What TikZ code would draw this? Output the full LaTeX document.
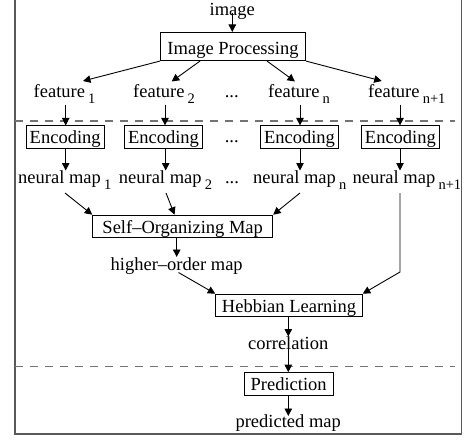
\documentclass[tikz,border=0pt]{standalone}
\usepackage{fontspec}
\setmainfont{Liberation Serif}
\usetikzlibrary{arrows.meta}
% lowered index set after a label word
\newcommand\lowsub[1]{\hspace{3.2pt}\raisebox{-6.5pt}{\fontsize{14.5}{15}\selectfont #1}}
\begin{document}
\begin{tikzpicture}[x=1pt,y=-1pt,
  font=\fontsize{18.5}{20}\selectfont,
  box/.style={draw, line width=0.9pt, inner xsep=0pt, inner ysep=0.7pt,
              text height=17.3pt, text depth=4pt},
  lbl/.style={inner sep=0pt},
  arr/.style={-{Triangle[length=7.5pt,width=7.5pt]}, line width=0.9pt},
  framed/.style={draw=black!65, line width=1.2pt},
  sep/.style={draw=black!55, line width=1.3pt, dash pattern=on 7.5pt off 7.5pt}]

\useasboundingbox (0,0) rectangle (465,439);

% outer frame and stage separators
\draw[framed] (15,-3) -- (15,434) -- (461.5,434) -- (461.5,-3);
\draw[sep] (15,121) -- (455,121);
\draw[sep] (15,366.7) -- (455,366.7);

% input and image processing
\node[lbl, anchor=base] (img) at (232.3,15) {image};
\node[box, minimum width=145pt, text height=21pt, text depth=5.8pt] (ip) at (233,46.5) {Image Processing};

% features
\node[lbl, anchor=base west] (f1) at (33.5,97) {feature\lowsub{1}};
\node[lbl, anchor=base west] (f2) at (133,97) {feature\lowsub{2}};
\node[lbl, anchor=base] (d1) at (231.7,97) {...};
\node[lbl, anchor=base west] (fn) at (268,97) {feature\lowsub{n}};
\node[lbl, anchor=base west] (fn1) at (368,97) {feature\lowsub{n+1}};

% encoders
\node[box, minimum width=78pt] (e1) at (65.2,137.2) {Encoding};
\node[box, minimum width=78pt] (e2) at (163.5,137.2) {Encoding};
\node[lbl, anchor=base] (d2) at (231.7,142.5) {...};
\node[box, minimum width=78pt] (e3) at (299.5,137.2) {Encoding};
\node[box, minimum width=78pt] (e4) at (400.4,137.2) {Encoding};

% neural maps
\node[lbl, anchor=base west] (n1) at (18,183) {neural map\lowsub{1}};
\node[lbl, anchor=base west] (n2) at (118.7,183) {neural map\lowsub{2}};
\node[lbl, anchor=base] (d3) at (232,183) {...};
\node[lbl, anchor=base west] (nn) at (253,183) {neural map\lowsub{n}};
\node[lbl, anchor=base west] (nn1) at (352.4,183) {neural map\lowsub{n+1}};

% integration and prediction
\node[box, minimum width=180pt] (som) at (182.7,226.5) {Self–Organizing Map};
\node[lbl, anchor=base] (ho) at (176.7,270) {higher–order map};
\node[box, minimum width=146.6pt] (heb) at (289,305.5) {Hebbian Learning};
\node[lbl, anchor=base] (cor) at (288.3,349.3) {correlation};
\node[box, minimum width=89.3pt] (pred) at (288.7,383.9) {Prediction};
\node[lbl, anchor=base] (pm) at (288.2,427.5) {predicted map};

% connector end points
\coordinate (imgout) at (232.3,12.5);
\path (ip.south) ++(-33,0) coordinate (ipb2);
\path (ip.south) ++(34,0) coordinate (ipb3);
\coordinate (f1in) at (83,81);
\coordinate (f2in) at (171.7,81.5);
\coordinate (fnin) at (295,81.5);
\coordinate (fn1in) at (381.7,81);
\coordinate (f1out) at (65.7,104.5);
\coordinate (f2out) at (165,104.5);
\coordinate (fnout) at (300,104.5);
\coordinate (fn1out) at (400,104.5);
\coordinate (n1in) at (65.7,170.5);
\coordinate (n2in) at (165.7,170.5);
\coordinate (nnin) at (300,170.5);
\coordinate (nn1in) at (400,170.5);
\coordinate (n1out) at (65,193);
\coordinate (n2out) at (166,193);
\coordinate (nnout) at (300,193);
\coordinate (nn1out) at (400,193);
\coordinate (nbend) at (400,272);
\path (som.north west) ++(82.3,0) coordinate (somin2);
\coordinate (hoin) at (176.7,257);
\coordinate (hoout) at (178.5,272.5);
\coordinate (corin) at (288.3,336.5);
\coordinate (pmin) at (288.3,416);

% connectors
\draw[arr] (imgout) -- (imgout |- ip.north);
\draw[arr] (ip.south west) -- (f1in);
\draw[arr] (ipb2) -- (f2in);
\draw[arr] (ipb3) -- (fnin);
\draw[arr] (ip.south east) -- (fn1in);

\draw[arr] (f1out) -- (f1out |- e1.north);
\draw[arr] (f2out) -- (f2out |- e2.north);
\draw[arr] (fnout) -- (fnout |- e3.north);
\draw[arr] (fn1out) -- (fn1out |- e4.north);

\draw[arr] (n1in |- e1.south) -- (n1in);
\draw[arr] (n2in |- e2.south) -- (n2in);
\draw[arr] (nnin |- e3.south) -- (nnin);
\draw[arr] (nn1in |- e4.south) -- (nn1in);

\draw[arr] (n1out) -- (som.north west);
\draw[arr] (n2out) -- (somin2);
\draw[arr] (nnout) -- (som.north east);
\draw[arr] (nn1out) -- (nbend) -- (heb.north east);

\draw[arr] (hoin |- som.south) -- (hoin);
\draw[arr] (hoout) -- (heb.north west);

\draw[arr] (corin |- heb.south) -- (corin);
\draw[arr] (corin) -- (corin |- pred.north);
\draw[arr] (pmin |- pred.south) -- (pmin);
\end{tikzpicture}
\end{document}
